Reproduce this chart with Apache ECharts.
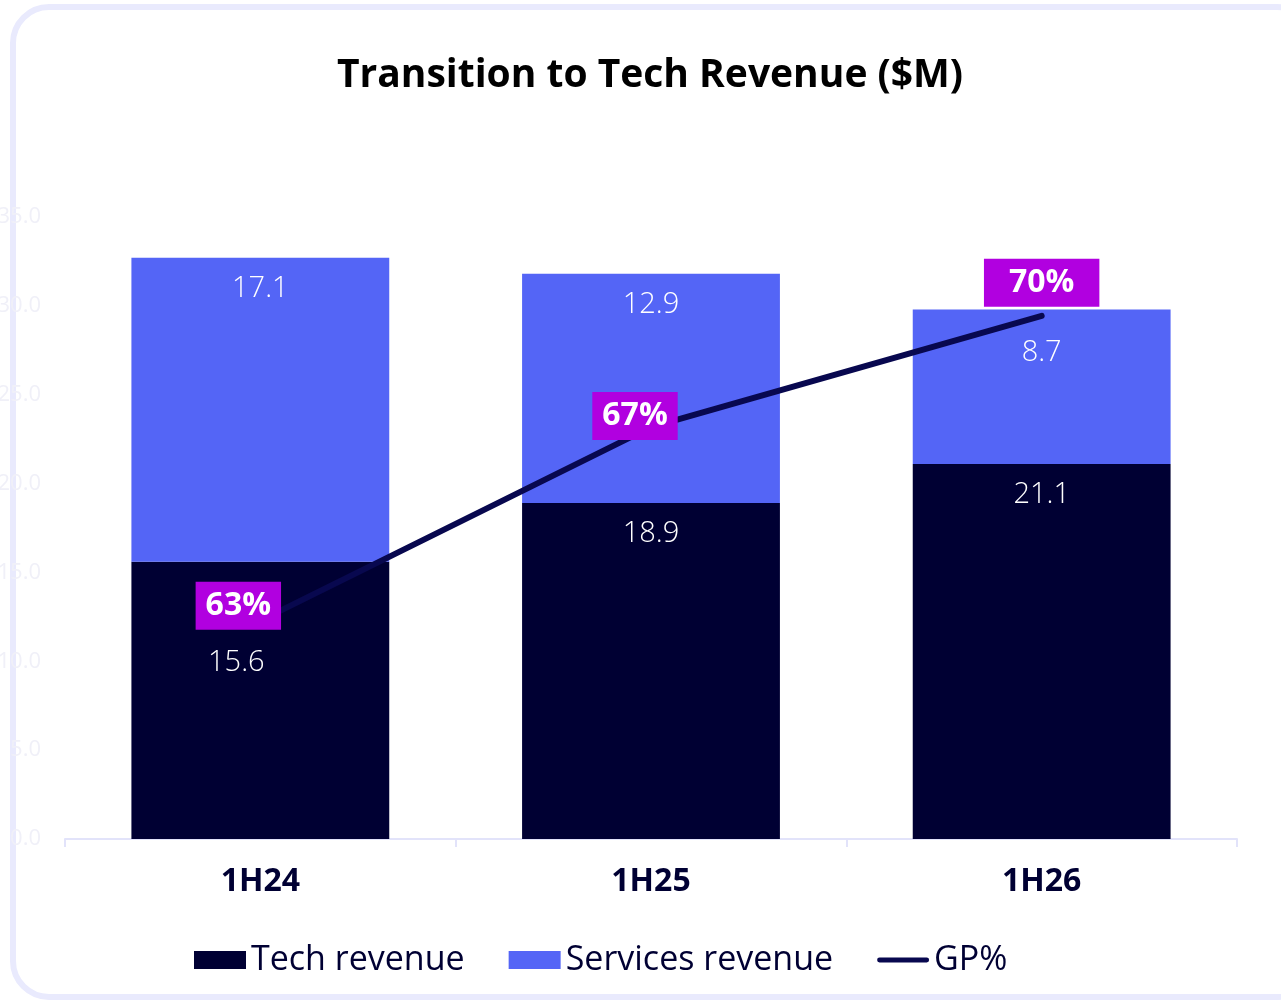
<!DOCTYPE html>
<html>
<head>
<meta charset="utf-8">
<script src="https://cdn.jsdelivr.net/npm/echarts@6/dist/echarts.min.js"></script>
<style>
html,body{margin:0;padding:0;background:#fff;}
#chart{width:1281px;height:1000px;}
</style>
</head>
<body>
<div id="chart"></div>
<script>
// ---- data ----
const categories = ['1H24', '1H25', '1H26'];
const techRevenue = [15.6, 18.9, 21.1];
const servicesRevenue = [17.1, 12.9, 8.7];
const gpPercent = [62.6, 67.3, 70.0];
const yTickLabels = ['0.0', '5.0', '10.0', '15.0', '20.0', '25.0', '30.0', '35.0'];

// ---- styling / layout (not data) ----
const FONT = "'Open Sans', 'DejaVu Sans', sans-serif";
const techLabelOffsets = [[-24, 70], [0, 0], [0, 0]];
const servicesLabelOffsets = [[0, 0], [0, 0], [0, 12]];
const gpLabelOffsets = [[-22, -15], [-16, -11], [0, -33]];
const gpLabelPadding = [[9, 10, 7, 10], [9, 10, 7, 10], [9, 25, 7, 25]];
const lineIconPath = 'path://M0,0L0.01,0L0,0.01Z M52,18L52.01,18L52,17.99Z M2,6.5L50,6.5A2.5,2.5,0,0,1,50,11.5L2,11.5A2.5,2.5,0,0,1,2,6.5Z';

const chart = echarts.init(document.getElementById('chart'), null, {renderer: 'canvas'});

const barLabelBase = {
  show: true,
  position: ['50%', 31],
  align: 'center',
  verticalAlign: 'middle',
  color: '#ffffff',
  fontSize: 29,
  fontWeight: 300,
  fontFamily: FONT,
  formatter: p => p.value.toFixed(1)
};

const option = {
  backgroundColor: '#ffffff',
  animation: false,
  graphic: [{
    type: 'rect',
    shape: {x: 13, y: 7, width: 1300, height: 990, r: 36},
    style: {fill: 'none', stroke: '#E9EAFD', lineWidth: 6},
    z: -10,
    silent: true
  }],
  title: {
    text: 'Transition to Tech Revenue ($M)',
    left: 645,
    textAlign: 'center',
    top: 51,
    textStyle: {fontSize: 39, fontWeight: 'bold', color: '#000000', fontFamily: FONT}
  },
  legend: {
    bottom: 18,
    left: 189,
    itemWidth: 52,
    itemHeight: 18,
    itemGap: 44,
    textStyle: {fontSize: 34, color: '#000033', fontFamily: FONT, padding: [0, 0, 0, 0]},
    data: [
      {name: 'Tech revenue', icon: 'rect'},
      {name: 'Services revenue', icon: 'rect'},
      {name: 'GP%', icon: lineIconPath, itemStyle: {color: '#08084F'}}
    ]
  },
  grid: {left: 65, right: 44, top: 217, bottom: 161, containLabel: false, outerBoundsMode: 'none'},
  xAxis: {
    type: 'category',
    data: categories,
    axisLine: {show: true, lineStyle: {color: '#E2E3FA', width: 2}},
    axisTick: {show: true, length: 8, lineStyle: {color: '#E2E3FA', width: 2}},
    axisLabel: {margin: 27, fontSize: 32, fontWeight: 'bold', color: '#000033', fontFamily: FONT}
  },
  yAxis: [{
    type: 'value',
    min: 0,
    max: 35,
    interval: 5,
    splitLine: {show: false},
    axisLine: {show: false},
    axisTick: {show: false},
    axisLabel: {
      margin: 24,
      fontSize: 22,
      color: '#F0F0F8',
      fontFamily: FONT,
      formatter: v => yTickLabels[Math.round(v / 5)]
    }
  }, {
    type: 'value',
    min: 57.3,
    max: 72.4,
    show: false,
    splitLine: {show: false}
  }],
  series: [{
    name: 'Tech revenue',
    type: 'bar',
    stack: 'rev',
    barWidth: '66%',
    itemStyle: {color: '#000033'},
    data: techRevenue.map((v, i) => ({
      value: v,
      label: Object.assign({}, barLabelBase, {offset: techLabelOffsets[i]})
    })),
    z: 2
  }, {
    name: 'Services revenue',
    type: 'bar',
    stack: 'rev',
    barWidth: '66%',
    itemStyle: {color: '#5465F6'},
    data: servicesRevenue.map((v, i) => ({
      value: v,
      label: Object.assign({}, barLabelBase, {offset: servicesLabelOffsets[i]})
    })),
    z: 2
  }, {
    name: 'GP%',
    type: 'line',
    yAxisIndex: 1,
    symbol: 'circle',
    symbolSize: 1,
    showSymbol: true,
    itemStyle: {color: '#08084F'},
    lineStyle: {color: '#08084F', width: 6, cap: 'round'},
    z: 5,
    data: gpPercent.map((v, i) => ({
      value: v,
      label: {
        show: true,
        position: 'inside',
        offset: gpLabelOffsets[i],
        padding: gpLabelPadding[i],
        backgroundColor: '#B100E0',
        color: '#ffffff',
        fontSize: 32,
        fontWeight: 'bold',
        fontFamily: FONT,
        formatter: p => Math.round(p.value) + '%'
      }
    }))
  }]
};

chart.setOption(option);
</script>
</body>
</html>
